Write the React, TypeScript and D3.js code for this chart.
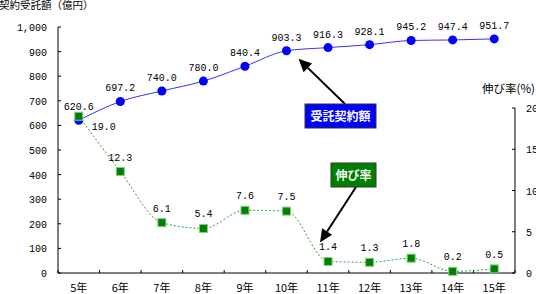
import React from "react";
import * as d3 from "d3";

const categories = ["5年", "6年", "7年", "8年", "9年", "10年", "11年", "12年", "13年", "14年", "15年"];
const amounts = [620.6, 697.2, 740.0, 780.0, 840.4, 903.3, 916.3, 928.1, 945.2, 947.4, 951.7];
const rates = [19.0, 12.3, 6.1, 5.4, 7.6, 7.5, 1.4, 1.3, 1.8, 0.2, 0.5];
const leftTicks = [0, 100, 200, 300, 400, 500, 600, 700, 800, 900, 1000];
const rightTicks = [0, 5, 10, 15, 20];

const W = 536;
const H = 294;
const numFont = "'Liberation Mono', 'DejaVu Sans Mono', monospace";
const jpFont = "'Noto Sans CJK JP', sans-serif";

export default function App() {
  const x = d3.scaleBand<string>().domain(categories).range([58, 515]);
  const cx = (c: string) => (x(c) as number) + x.bandwidth() / 2;
  const yL = d3.scaleLinear().domain([0, 1000]).range([273, 27]);
  const yR = d3.scaleLinear().domain([0, 20]).range([273, 108]);
  const fmt = d3.format(",");

  const amtLine = d3
    .line<number>()
    .x((_, i) => cx(categories[i]))
    .y((d) => yL(d))
    .curve(d3.curveMonotoneX)(amounts) as string;
  const rateLine = d3
    .line<number>()
    .x((_, i) => cx(categories[i]))
    .y((d) => yR(d))
    .curve(d3.curveMonotoneX)(rates) as string;

  // annotation anchors
  const bTip = { x: cx(categories[5]) + 12, y: yL(amounts[5]) + 8 };
  const bBox = { x: 305, y: 104, w: 71, h: 24 };
  const gTip = { x: cx(categories[6]) - 8, y: yR(rates[6]) - 19 };
  const gBox = { x: 331, y: 163, w: 45, h: 24 };

  const arrow = (fx: number, fy: number, tx: number, ty: number) => {
    const ang = Math.atan2(ty - fy, tx - fx);
    const len = 13;
    const half = 6;
    const bx = tx - len * Math.cos(ang);
    const by = ty - len * Math.sin(ang);
    const px = -Math.sin(ang) * half;
    const py = Math.cos(ang) * half;
    return (
      <g>
        <line x1={fx} y1={fy} x2={bx} y2={by} stroke="#000" strokeWidth={2} />
        <polygon points={`${tx},${ty} ${bx + px},${by + py} ${bx - px},${by - py}`} fill="#000" />
      </g>
    );
  };

  const bounds = categories.map((c) => x(c) as number).concat([515]);

  return (
    <svg width={W} height={H} style={{ position: "absolute", left: 0, top: 0, background: "#fff" }}>
      <rect x={0} y={0} width={W} height={H} fill="#fff" />
      {/* titles */}
      <text x={-1} y={9} fontFamily={jpFont} fontSize={10.5} fill="#000">契約受託額（億円）</text>
      <text x={482} y={93} fontFamily={jpFont} fontSize={11.5} fill="#000">伸び率(%)</text>

      {/* left axis */}
      <line x1={58} y1={yL(0)} x2={58} y2={yL(1000)} stroke="#000" />
      {leftTicks.map((t) => (
        <g key={"l" + t}>
          <line x1={58} x2={61} y1={yL(t)} y2={yL(t)} stroke="#000" />
          <text x={47} y={yL(t) + 4} textAnchor="end" fontFamily={numFont} fontSize={10} fill="#000">
            {fmt(t)}
          </text>
        </g>
      ))}

      {/* right axis */}
      <line x1={515} y1={yR(0)} x2={515} y2={yR(20)} stroke="#000" />
      {rightTicks.map((t) => (
        <g key={"r" + t}>
          <line x1={512} x2={515} y1={yR(t)} y2={yR(t)} stroke="#000" />
          <text x={526} y={yR(t) + 4} fontFamily={numFont} fontSize={10} fill="#000">
            {t}
          </text>
        </g>
      ))}

      {/* x axis */}
      <line x1={58} x2={515} y1={273} y2={273} stroke="#000" />
      {bounds.map((b, i) => (
        <line key={"xb" + i} x1={b} x2={b} y1={273} y2={270} stroke="#000" />
      ))}
      {categories.map((c) => (
        <text key={"xl" + c} x={cx(c)} y={292} textAnchor="middle" fontFamily={jpFont} fontSize={11} fill="#000">
          {c}
        </text>
      ))}

      {/* amount line */}
      <path d={amtLine} fill="none" stroke="#3333ff" strokeWidth={1} />
      {amounts.map((v, i) => (
        <circle key={"a" + i} cx={cx(categories[i])} cy={yL(v)} r={4.5} fill="#0000ff" />
      ))}

      {/* rate line */}
      <path d={rateLine} fill="none" stroke="#33a033" strokeWidth={1} strokeDasharray="2,2" />
      {rates.map((v, i) => (
        <rect
          key={"r" + i}
          x={cx(categories[i]) - 4}
          y={yR(v) - 4}
          width={8}
          height={8}
          fill="#008000"
          stroke="#88cc88"
          strokeWidth={1}
        />
      ))}

      {/* amount labels */}
      {amounts.map((v, i) => (
        <text
          key={"al" + i}
          x={cx(categories[i])}
          y={yL(v) - 10}
          textAnchor="middle"
          fontFamily={numFont}
          fontSize={10}
          fill="#000"
        >
          {v.toFixed(1)}
        </text>
      ))}
      {/* rate labels */}
      {rates.map((v, i) =>
        i === 0 ? (
          <text key={"rl" + i} x={cx(categories[i]) + 13} y={yR(v) + 14} fontFamily={numFont} fontSize={10} fill="#000">
            {v.toFixed(1)}
          </text>
        ) : (
          <text
            key={"rl" + i}
            x={cx(categories[i])}
            y={yR(v) - 11}
            textAnchor="middle"
            fontFamily={numFont}
            fontSize={10}
            fill="#000"
          >
            {v.toFixed(1)}
          </text>
        )
      )}

      {/* annotations */}
      {arrow(bBox.x + 40, bBox.y, bTip.x, bTip.y)}
      <rect x={bBox.x} y={bBox.y} width={bBox.w} height={bBox.h} fill="#0000ff" stroke="#333" strokeWidth={1} />
      <text
        x={bBox.x + bBox.w / 2}
        y={bBox.y + 16.5}
        textAnchor="middle"
        fontFamily={jpFont}
        fontSize={12}
        fontWeight="bold"
        fill="#fff"
      >
        受託契約額
      </text>

      {arrow(gBox.x + 25, gBox.y + gBox.h, gTip.x, gTip.y)}
      <rect x={gBox.x} y={gBox.y} width={gBox.w} height={gBox.h} fill="#008000" stroke="#333" strokeWidth={1} />
      <text
        x={gBox.x + gBox.w / 2}
        y={gBox.y + 16.5}
        textAnchor="middle"
        fontFamily={jpFont}
        fontSize={12}
        fontWeight="bold"
        fill="#fff"
      >
        伸び率
      </text>
    </svg>
  );
}
